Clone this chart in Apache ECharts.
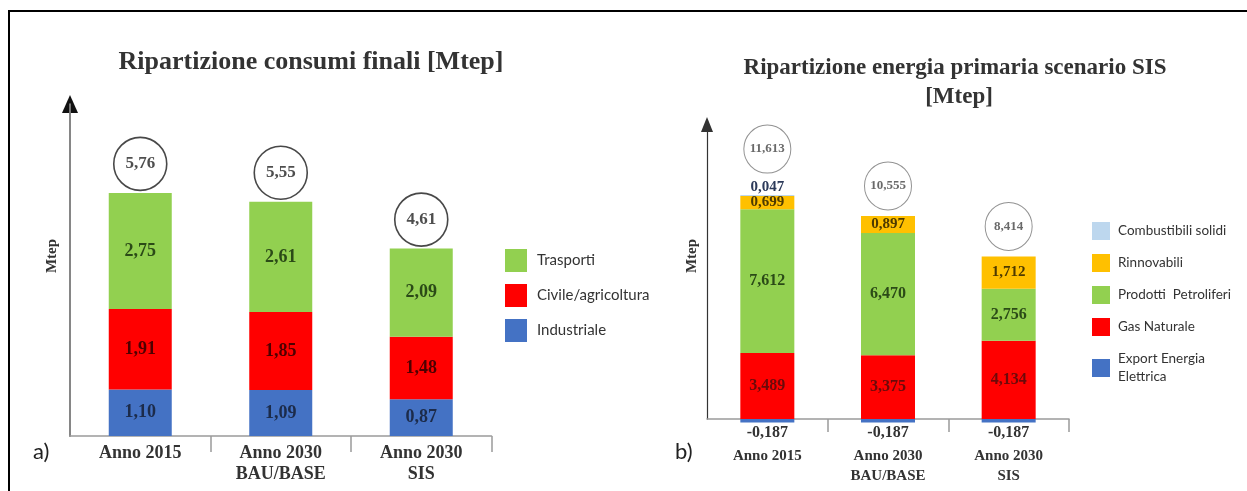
<!DOCTYPE html>
<html>
<head>
<meta charset="utf-8">
<script src="https://cdn.jsdelivr.net/npm/echarts@6/dist/echarts.min.js"></script>
<style>
  html, body { margin: 0; padding: 0; background: #ffffff; }
  #chart { width: 1247px; height: 491px; }
</style>
</head>
<body>
<div id="chart"></div>
<script>
// ---- Data: chart a) Ripartizione consumi finali [Mtep]
const leftCategories = ['Anno 2015', 'Anno 2030\nBAU/BASE', 'Anno 2030\nSIS'];
const leftIndustriale = [1.10, 1.09, 0.87];
const leftCivile = [1.91, 1.85, 1.48];
const leftTrasporti = [2.75, 2.61, 2.09];
const leftTotals = [5.76, 5.55, 4.61];

// ---- Data: chart b) Ripartizione energia primaria scenario SIS [Mtep]
const rightCategories = ['Anno 2015', 'Anno 2030\nBAU/BASE', 'Anno 2030\nSIS'];
const rightExport = [-0.187, -0.187, -0.187];
const rightGas = [3.489, 3.375, 4.134];
const rightPetroliferi = [7.612, 6.470, 2.756];
const rightRinnovabili = [0.699, 0.897, 1.712];
const rightCombustibili = [0.047, 0, 0];
const rightTotals = [11.613, 10.555, 8.414];

const SERIF = 'Liberation Serif';
const SANS = 'Lato';

function fmt(v, d) { return v.toFixed(d).replace('.', ','); }
function sumPositive(arrays, i) {
  return arrays.reduce((s, a) => s + (a[i] > 0 ? a[i] : 0), 0);
}

const leftTop = leftCategories.map((c, i) => sumPositive([leftIndustriale, leftCivile, leftTrasporti], i));
const rightTop = rightCategories.map((c, i) => sumPositive([rightGas, rightPetroliferi, rightRinnovabili, rightCombustibili], i));

function leftBar(name, data, color, labelColor) {
  return {
    name: name, type: 'bar', stack: 'a', xAxisIndex: 0, yAxisIndex: 0,
    data: data, barWidth: 63,
    itemStyle: { color: color },
    label: {
      show: true, position: 'inside',
      formatter: p => fmt(p.value, 2),
      fontFamily: SERIF, fontWeight: 'bold', fontSize: 18, color: labelColor
    }
  };
}
function rightBar(name, data, color, labelColor, labelOpts) {
  return {
    name: name, type: 'bar', stack: 'b', xAxisIndex: 1, yAxisIndex: 2,
    data: data, barWidth: 54, clip: false,
    itemStyle: { color: color },
    label: Object.assign({
      show: true, position: 'inside',
      formatter: p => (p.value === 0 ? '' : fmt(p.value, 3)),
      fontFamily: SERIF, fontWeight: 'bold', fontSize: 16, color: labelColor
    }, labelOpts || {})
  };
}

const hiddenY = {
  axisTick: { show: false }, axisLabel: { show: false }, splitLine: { show: false }
};

const option = {
  animation: false,
  backgroundColor: '#ffffff',
  graphic: [
    { type: 'rect', shape: { x: 9, y: 11, width: 1260, height: 500 },
      style: { fill: 'none', stroke: '#000', lineWidth: 2 }, z: 0 },
    { type: 'text', x: 311, y: 62,
      style: { text: 'Ripartizione consumi finali [Mtep]', fontFamily: SERIF, fontWeight: 'bold', fontSize: 26, fill: '#333', align: 'center', verticalAlign: 'middle' } },
    { type: 'text', x: 955, y: 68,
      style: { text: 'Ripartizione energia primaria scenario SIS', fontFamily: SERIF, fontWeight: 'bold', fontSize: 23, fill: '#333', align: 'center', verticalAlign: 'middle' } },
    { type: 'text', x: 959, y: 97,
      style: { text: '[Mtep]', fontFamily: SERIF, fontWeight: 'bold', fontSize: 23, fill: '#333', align: 'center', verticalAlign: 'middle' } },
    { type: 'text', x: 52, y: 256, rotation: Math.PI / 2,
      style: { text: 'Mtep', fontFamily: SERIF, fontWeight: 'bold', fontSize: 15, fill: '#333', align: 'center', verticalAlign: 'middle' } },
    { type: 'text', x: 692, y: 256, rotation: Math.PI / 2,
      style: { text: 'Mtep', fontFamily: SERIF, fontWeight: 'bold', fontSize: 15, fill: '#333', align: 'center', verticalAlign: 'middle' } },
    { type: 'text', x: 33, y: 452,
      style: { text: 'a)', fontFamily: SANS, fontSize: 22, fill: '#222', align: 'left', verticalAlign: 'middle' } },
    { type: 'text', x: 675, y: 452,
      style: { text: 'b)', fontFamily: SANS, fontSize: 22, fill: '#222', align: 'left', verticalAlign: 'middle' } }
  ],
  legend: [
    {
      data: ['Trasporti', 'Civile/agricoltura', 'Industriale'],
      orient: 'vertical', left: 505, top: 249, padding: 0,
      icon: 'rect', itemWidth: 22, itemHeight: 23, itemGap: 12,
      selectedMode: false,
      textStyle: { fontFamily: SANS, fontSize: 15, color: '#333', padding: [0, 0, 0, 5] }
    },
    {
      data: ['Combustibili solidi', 'Rinnovabili', 'Prodotti  Petroliferi', 'Gas Naturale', 'Export Energia\nElettrica'],
      orient: 'vertical', left: 1092, top: 222, padding: 0,
      icon: 'rect', itemWidth: 18, itemHeight: 18, itemGap: 14,
      selectedMode: false,
      textStyle: { fontFamily: SANS, fontSize: 13.5, lineHeight: 18, color: '#333', padding: [0, 0, 0, 3] }
    }
  ],
  grid: [
    { left: 70, top: 104, width: 421.5, height: 332 },
    { left: 707, top: 124.5, width: 362, height: 294.5 }
  ],
  xAxis: [
    {
      type: 'category', gridIndex: 0, data: leftCategories,
      axisLine: { lineStyle: { color: '#9a9a9a', width: 1.5 } },
      axisTick: { show: true, length: 16, interval: i => i > 0, lineStyle: { color: '#9a9a9a', width: 1.5 } },
      axisLabel: { interval: 0, margin: 7, fontFamily: SERIF, fontWeight: 'bold', fontSize: 18, lineHeight: 21, color: '#333' }
    },
    {
      type: 'category', gridIndex: 1, data: rightCategories,
      axisLine: { lineStyle: { color: '#9a9a9a', width: 1.5 } },
      axisTick: { show: true, length: 13, interval: i => i > 0, lineStyle: { color: '#9a9a9a', width: 1.5 } },
      axisLabel: { interval: 0, margin: 27, fontFamily: SERIF, fontWeight: 'bold', fontSize: 15, lineHeight: 20, color: '#333' }
    }
  ],
  yAxis: [
    Object.assign({
      type: 'value', gridIndex: 0, min: 0, max: 7.867, position: 'left', z: 0,
      axisLine: { show: true, symbol: ['none', 'triangle'], symbolSize: [16, 18], lineStyle: { color: '#111', width: 1.5 } }
    }, hiddenY),
    Object.assign({
      type: 'value', gridIndex: 0, min: 0, max: 7.867, position: 'left', z: 1,
      axisLine: { show: true, lineStyle: { color: '#9a9a9a', width: 1.5 } }
    }, hiddenY),
    Object.assign({
      type: 'value', gridIndex: 1, min: 0, max: 15.58, position: 'left',
      axisLine: { show: true, symbol: ['none', 'triangle'], symbolSize: [12, 15], lineStyle: { color: '#333', width: 1.2 } }
    }, hiddenY)
  ],
  series: [
    leftBar('Industriale', leftIndustriale, '#4472c4', '#1c2b4a'),
    leftBar('Civile/agricoltura', leftCivile, '#ff0000', '#4d0000'),
    leftBar('Trasporti', leftTrasporti, '#92d050', '#2b4a17'),
    {
      name: 'Totale a', type: 'scatter', xAxisIndex: 0, yAxisIndex: 0, z: 5,
      data: leftTop.map((v, i) => ({ value: v, total: leftTotals[i] })),
      symbol: 'circle', symbolSize: [53, 53], symbolOffset: [0, -29],
      itemStyle: { color: '#ffffff', borderColor: '#1a1a1a', borderWidth: 1.6 },
      label: { show: true, position: 'inside', formatter: p => fmt(p.data.total, 2),
        fontFamily: SERIF, fontWeight: 'bold', fontSize: 17, color: '#222' }
    },
    rightBar('Export Energia\nElettrica', rightExport, '#4472c4', '#333', { position: 'bottom', distance: 2 }),
    rightBar('Gas Naturale', rightGas, '#ff0000', '#6b0a0a'),
    rightBar('Prodotti  Petroliferi', rightPetroliferi, '#92d050', '#2b4a17'),
    rightBar('Rinnovabili', rightRinnovabili, '#ffc000', '#4d3a00', { fontSize: 15 }),
    rightBar('Combustibili solidi', rightCombustibili, '#bdd7ee', '#2c3a5a', { position: 'top', distance: 0, fontSize: 15 }),
    {
      name: 'Totale b', type: 'scatter', xAxisIndex: 1, yAxisIndex: 2, z: 5,
      data: rightTop.map((v, i) => ({ value: v, total: rightTotals[i], symbolOffset: i === 0 ? [0, -46] : [0, -30] })),
      symbol: 'circle', symbolSize: [47, 48],
      itemStyle: { color: '#ffffff', borderColor: '#777', borderWidth: 1 },
      label: { show: true, position: 'inside', formatter: p => fmt(p.data.total, 3),
        fontFamily: SERIF, fontWeight: 'bold', fontSize: 13, color: '#444' }
    }
  ]
};

const chart = echarts.init(document.getElementById('chart'), null, { renderer: 'canvas' });
chart.setOption(option);
</script>
</body>
</html>
